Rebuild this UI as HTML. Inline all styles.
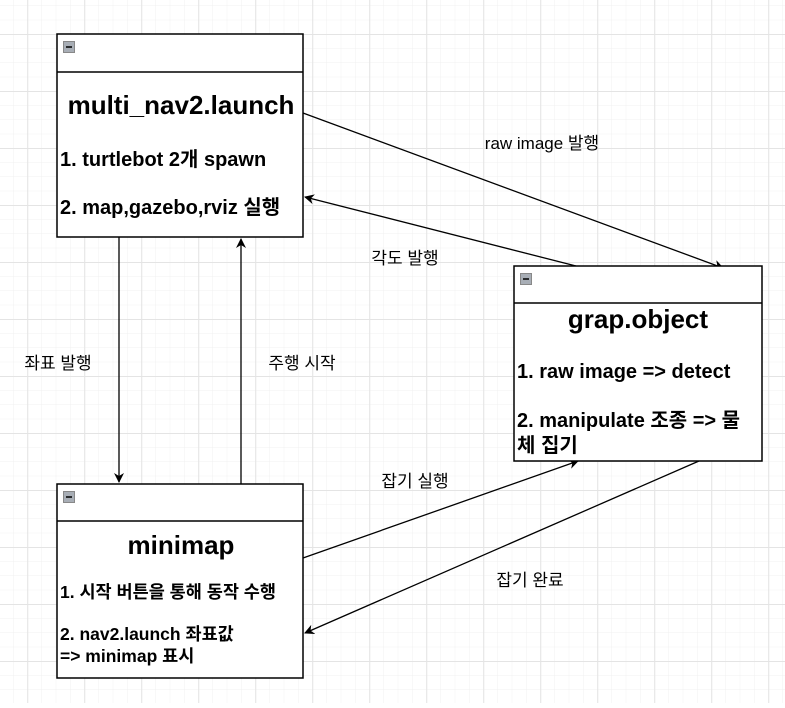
<!DOCTYPE html>
<html><head><meta charset="utf-8"><style>
body{margin:0;background:#fff;}
svg text{font-family:"Liberation Sans","Noto Sans CJK KR",sans-serif;fill:#000;}
.t{font-weight:bold;font-size:26px;text-anchor:middle}
.b{font-weight:bold;font-size:20px}
.s{font-weight:bold;font-size:17.5px}
.l{font-size:17px;text-anchor:middle}
</style></head><body>
<svg width="785" height="703" viewBox="0 0 785 703" xmlns="http://www.w3.org/2000/svg">
<defs>
<pattern id="g" x="-0.75" y="6" width="14.25" height="14.25" patternUnits="userSpaceOnUse">
<path d="M14.25 0V14.25M0 14.25H14.25" fill="none" stroke="#f0f0f0" stroke-width="1"/>
</pattern>
<pattern id="G" x="-0.75" y="6" width="57" height="57" patternUnits="userSpaceOnUse">
<path d="M28.5 0V57M0 28.5H57" fill="none" stroke="#e4e4e4" stroke-width="1"/>
</pattern>
<marker id="a" markerWidth="10" markerHeight="10" refX="9" refY="5" orient="auto" markerUnits="userSpaceOnUse">
<path d="M0,0 L10,5 L0,10 L3,5 Z" fill="#000"/>
</marker>
</defs>
<rect width="785" height="703" fill="url(#g)"/>
<rect width="785" height="703" fill="url(#G)"/>

<g stroke="#000" stroke-width="1.3" fill="none">
<line x1="303" y1="113" x2="723" y2="268" marker-end="url(#a)"/>
<line x1="576" y1="266" x2="305" y2="197" marker-end="url(#a)"/>
<line x1="119" y1="237" x2="119" y2="482" marker-end="url(#a)"/>
<line x1="241" y1="484" x2="241" y2="239" marker-end="url(#a)"/>
<line x1="303" y1="558" x2="578" y2="461" marker-end="url(#a)"/>
<line x1="699" y1="461" x2="305" y2="633" marker-end="url(#a)"/>
</g>

<g stroke="#000" stroke-width="1.5" fill="#fff">
<rect x="57" y="34" width="246" height="203"/>
<line x1="57" y1="72" x2="303" y2="72"/>
<rect x="514" y="266" width="248" height="195"/>
<line x1="514" y1="303" x2="762" y2="303"/>
<rect x="57" y="484" width="246" height="194"/>
<line x1="57" y1="521" x2="303" y2="521"/>
</g>
<g fill="#a8aeb6" stroke="#888" stroke-width="1">
<rect x="63.5" y="41.5" width="11" height="11"/>
<rect x="520.5" y="273.5" width="11" height="11"/>
<rect x="63.5" y="491.5" width="11" height="11"/>
</g>
<g stroke="#000" stroke-width="1.5">
<line x1="66" y1="47" x2="72" y2="47"/>
<line x1="523" y1="279" x2="529" y2="279"/>
<line x1="66" y1="497" x2="72" y2="497"/>
</g>

<text class="t" x="181" y="114">multi_nav2.launch</text>
<text class="b" x="60" y="166">1. turtlebot 2개 spawn</text>
<text class="b" x="60" y="214">2. map,gazebo,rviz 실행</text>

<text class="t" x="638" y="328">grap.object</text>
<text class="b" x="517" y="378">1. raw image =&gt; detect</text>
<text class="b" x="517" y="427">2. manipulate 조종 =&gt; 물</text>
<text class="b" x="517" y="452">체 집기</text>

<text class="t" x="181" y="554">minimap</text>
<text class="s" x="60" y="598">1. 시작 버튼을 통해 동작 수행</text>
<text class="s" x="60" y="640">2. nav2.launch 좌표값</text>
<text class="s" x="60" y="662">=&gt; minimap 표시</text>

<text class="l" x="542" y="149">raw image 발행</text>
<text class="l" x="405" y="264">각도 발행</text>
<text class="l" x="58" y="369">좌표 발행</text>
<text class="l" x="302" y="369">주행 시작</text>
<text class="l" x="415" y="487">잡기 실행</text>
<text class="l" x="530" y="586">잡기 완료</text>
</svg>
</body></html>
